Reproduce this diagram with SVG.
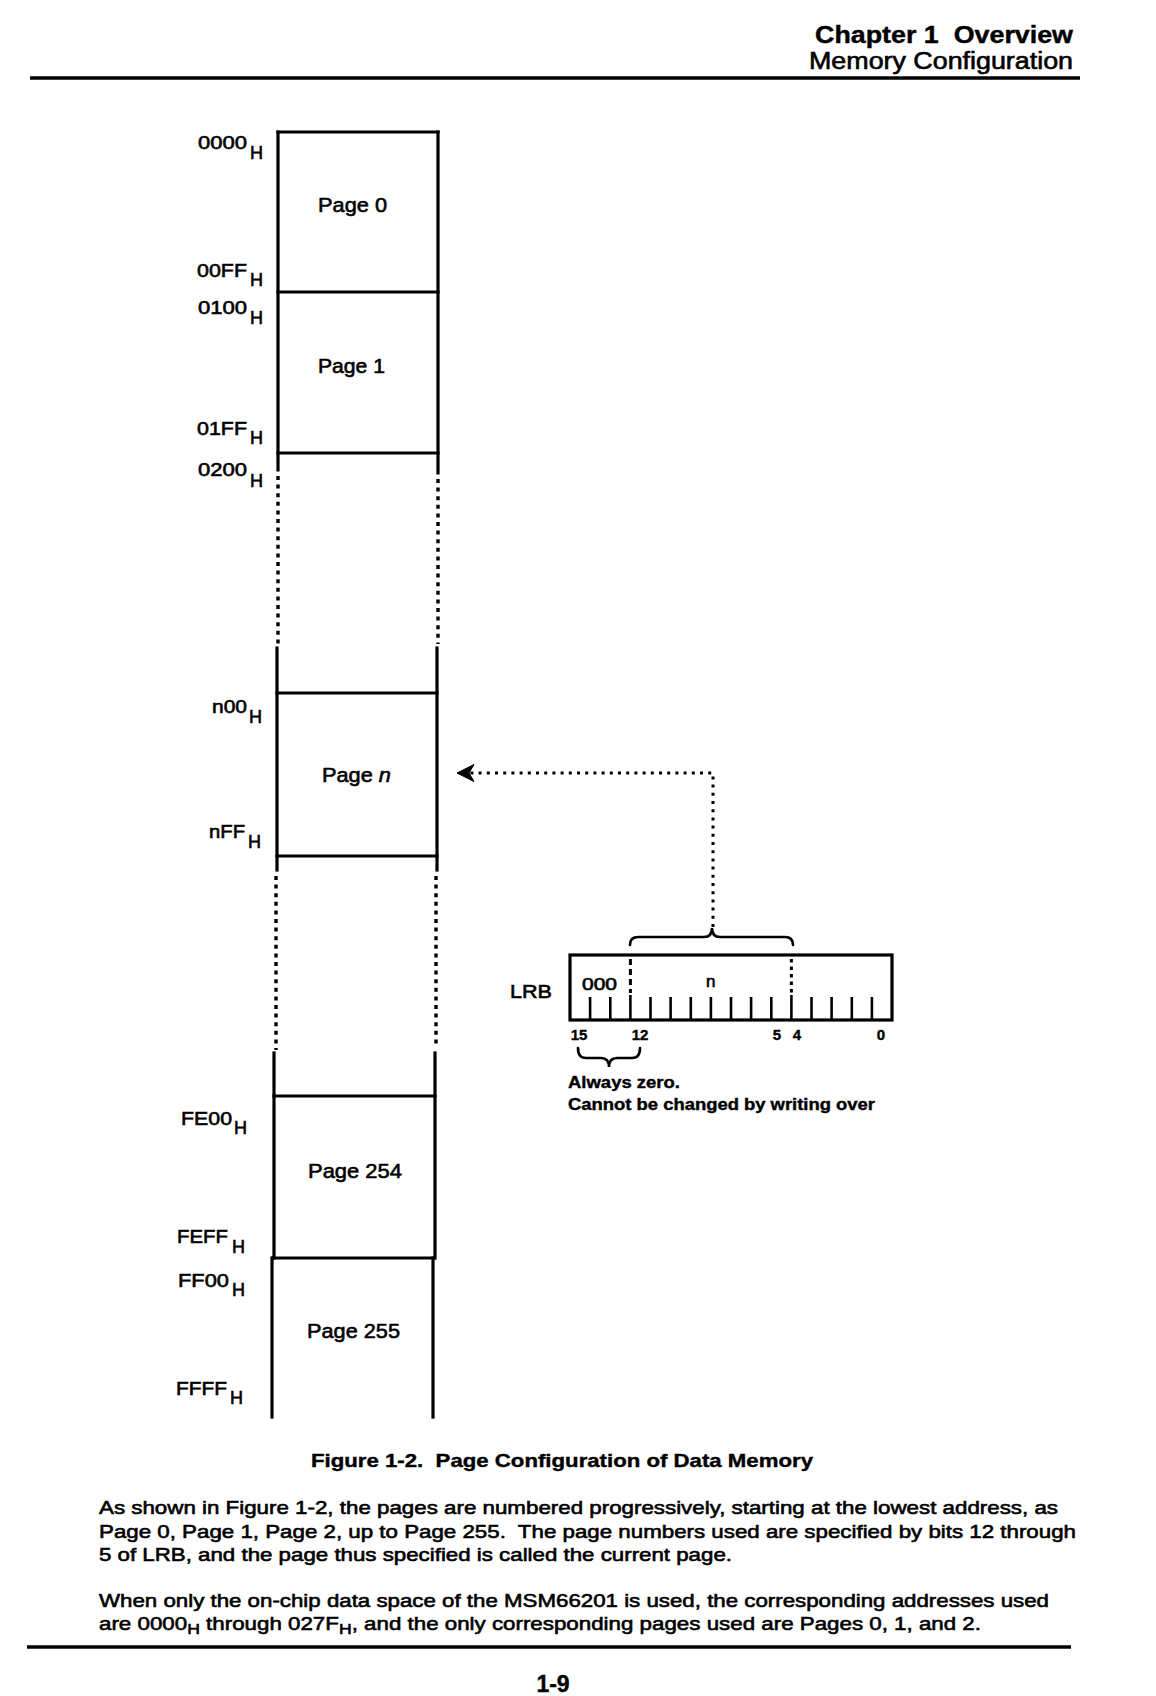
<svg xmlns="http://www.w3.org/2000/svg" width="1156" height="1696" viewBox="0 0 1156 1696">
  <style>
    .t { font-family: "Liberation Sans", Arial, sans-serif; fill: #000; stroke: #000; stroke-width: 0.6; white-space: pre; }
    .b { font-weight: bold; stroke-width: 0.4; }
    .ln { stroke: #000; stroke-width: 3.2; fill: none; stroke-linecap: square; }
    .dot { stroke: #000; stroke-width: 3.4; fill: none; stroke-dasharray: 4 4.6; }
    .rule { stroke: #000; stroke-width: 3.6; }
    .brace { stroke: #000; stroke-width: 2.6; fill: none; stroke-linecap: round; }
  </style>
  <defs>
    <marker id="arrow" viewBox="0 0 20 20" refX="18" refY="10" markerWidth="20" markerHeight="20" markerUnits="userSpaceOnUse" orient="auto">
      <path d="M18,10 L1,1.5 L6,10 L1,18.5 Z" fill="#000" stroke="#000" stroke-width="1"/>
    </marker>
  </defs>
  <rect width="1156" height="1696" fill="#fff"/>

  <!-- running header -->
  <g id="header">
    <text class="t b" x="815" y="43" font-size="23" textLength="258" lengthAdjust="spacingAndGlyphs" xml:space="preserve">Chapter 1  Overview</text>
    <text class="t" x="809" y="69" font-size="23" textLength="264" lengthAdjust="spacingAndGlyphs">Memory Configuration</text>
    <line class="rule" x1="30" y1="78" x2="1080" y2="78"/>
  </g>

  <!-- memory map column -->
  <g id="memory-column">
    <!-- left side -->
    <line class="ln" x1="278" y1="132" x2="278" y2="470"/>
    <line class="dot" x1="278" y1="476" x2="278" y2="644"/>
    <line class="ln" x1="277" y1="648" x2="277" y2="870"/>
    <line class="dot" x1="276" y1="876" x2="276" y2="1050"/>
    <line class="ln" x1="274" y1="1053" x2="274" y2="1258"/>
    <line class="ln" x1="272" y1="1258" x2="272" y2="1417"/>
    <!-- right side -->
    <line class="ln" x1="438" y1="132" x2="438" y2="473"/>
    <line class="dot" x1="438" y1="479" x2="438" y2="644"/>
    <line class="ln" x1="437" y1="648" x2="437" y2="870"/>
    <line class="dot" x1="436" y1="876" x2="436" y2="1048"/>
    <line class="ln" x1="435" y1="1053" x2="435" y2="1258"/>
    <line class="ln" x1="433" y1="1258" x2="433" y2="1417"/>
    <!-- page boundaries -->
    <line class="ln" x1="278" y1="132" x2="438" y2="132"/>
    <line class="ln" x1="278" y1="292" x2="438" y2="292"/>
    <line class="ln" x1="278" y1="453" x2="438" y2="453"/>
    <line class="ln" x1="277" y1="693" x2="437" y2="693"/>
    <line class="ln" x1="277" y1="856" x2="437" y2="856"/>
    <line class="ln" x1="274" y1="1096" x2="435" y2="1096"/>
    <line class="ln" x1="273" y1="1258" x2="434" y2="1258"/>
  </g>

  <g id="page-0">
    <text class="t" x="318" y="212" font-size="21" textLength="69" lengthAdjust="spacingAndGlyphs">Page 0</text>
  </g>
  <g id="page-1">
    <text class="t" x="318" y="373" font-size="21" textLength="67" lengthAdjust="spacingAndGlyphs">Page 1</text>
  </g>
  <g id="page-n">
    <text class="t" x="322" y="782" font-size="21" textLength="69" lengthAdjust="spacingAndGlyphs">Page <tspan font-style="italic">n</tspan></text>
  </g>
  <g id="page-254">
    <text class="t" x="308" y="1178" font-size="21" textLength="94" lengthAdjust="spacingAndGlyphs">Page 254</text>
  </g>
  <g id="page-255">
    <text class="t" x="307" y="1338" font-size="21" textLength="93" lengthAdjust="spacingAndGlyphs">Page 255</text>
  </g>

  <!-- address labels -->
  <g id="addresses">
    <text class="t" x="198" y="149" font-size="19" textLength="49" lengthAdjust="spacingAndGlyphs">0000</text>
    <text class="t" x="250" y="159" font-size="18" textLength="13" lengthAdjust="spacingAndGlyphs">H</text>
    <text class="t" x="197" y="277" font-size="19" textLength="50" lengthAdjust="spacingAndGlyphs">00FF</text>
    <text class="t" x="250" y="286" font-size="18" textLength="13" lengthAdjust="spacingAndGlyphs">H</text>
    <text class="t" x="198" y="314" font-size="19" textLength="49" lengthAdjust="spacingAndGlyphs">0100</text>
    <text class="t" x="250" y="324" font-size="18" textLength="13" lengthAdjust="spacingAndGlyphs">H</text>
    <text class="t" x="197" y="435" font-size="19" textLength="50" lengthAdjust="spacingAndGlyphs">01FF</text>
    <text class="t" x="250" y="444" font-size="18" textLength="13" lengthAdjust="spacingAndGlyphs">H</text>
    <text class="t" x="198" y="476" font-size="19" textLength="49" lengthAdjust="spacingAndGlyphs">0200</text>
    <text class="t" x="250" y="487" font-size="18" textLength="13" lengthAdjust="spacingAndGlyphs">H</text>
    <text class="t" x="212" y="713" font-size="19" textLength="35" lengthAdjust="spacingAndGlyphs">n00</text>
    <text class="t" x="249" y="723" font-size="18" textLength="13" lengthAdjust="spacingAndGlyphs">H</text>
    <text class="t" x="209" y="838" font-size="19" textLength="36" lengthAdjust="spacingAndGlyphs">nFF</text>
    <text class="t" x="248" y="848" font-size="18" textLength="13" lengthAdjust="spacingAndGlyphs">H</text>
    <text class="t" x="181" y="1125" font-size="19" textLength="51" lengthAdjust="spacingAndGlyphs">FE00</text>
    <text class="t" x="234" y="1134" font-size="18" textLength="13" lengthAdjust="spacingAndGlyphs">H</text>
    <text class="t" x="177" y="1243" font-size="19" textLength="51" lengthAdjust="spacingAndGlyphs">FEFF</text>
    <text class="t" x="232" y="1253" font-size="18" textLength="13" lengthAdjust="spacingAndGlyphs">H</text>
    <text class="t" x="178" y="1287" font-size="19" textLength="51" lengthAdjust="spacingAndGlyphs">FF00</text>
    <text class="t" x="232" y="1296" font-size="18" textLength="13" lengthAdjust="spacingAndGlyphs">H</text>
    <text class="t" x="176" y="1395" font-size="19" textLength="51" lengthAdjust="spacingAndGlyphs">FFFF</text>
    <text class="t" x="230" y="1404" font-size="18" textLength="13" lengthAdjust="spacingAndGlyphs">H</text>
  </g>

  <!-- LRB register -->
  <g id="lrb">
    <text class="t" x="510" y="998" font-size="19" textLength="42" lengthAdjust="spacingAndGlyphs">LRB</text>
    <rect x="570" y="955" width="322" height="65" fill="none" stroke="#000" stroke-width="3.2"/>
    <g stroke="#000" stroke-width="2.6">
      <line x1="590.1" y1="997" x2="590.1" y2="1020"/>
      <line x1="610.3" y1="997" x2="610.3" y2="1020"/>
      <line x1="630.4" y1="995" x2="630.4" y2="1020"/>
      <line x1="650.5" y1="997" x2="650.5" y2="1020"/>
      <line x1="670.6" y1="997" x2="670.6" y2="1020"/>
      <line x1="690.8" y1="997" x2="690.8" y2="1020"/>
      <line x1="710.9" y1="997" x2="710.9" y2="1020"/>
      <line x1="731.0" y1="997" x2="731.0" y2="1020"/>
      <line x1="751.1" y1="997" x2="751.1" y2="1020"/>
      <line x1="771.3" y1="997" x2="771.3" y2="1020"/>
      <line x1="791.4" y1="995" x2="791.4" y2="1020"/>
      <line x1="811.5" y1="997" x2="811.5" y2="1020"/>
      <line x1="831.6" y1="997" x2="831.6" y2="1020"/>
      <line x1="851.8" y1="997" x2="851.8" y2="1020"/>
      <line x1="871.9" y1="997" x2="871.9" y2="1020"/>
    </g>
    <!-- field boundaries at bits 12 and 5 -->
    <line x1="630.4" y1="959" x2="630.4" y2="993" stroke="#000" stroke-width="3" stroke-dasharray="6 4"/>
    <line x1="791.4" y1="959" x2="791.4" y2="993" stroke="#000" stroke-width="3" stroke-dasharray="3.5 4"/>
    <text class="t" x="582" y="990" font-size="16" textLength="35" lengthAdjust="spacingAndGlyphs">000</text>
    <text class="t" x="706" y="987" font-size="17">n</text>
    <g class="t b" font-size="15" text-anchor="middle">
      <text x="579" y="1040">15</text>
      <text x="640" y="1040">12</text>
      <text x="777" y="1040">5</text>
      <text x="797" y="1040">4</text>
      <text x="881" y="1040">0</text>
    </g>
    <path class="brace" d="M630,945 Q630,937 638,937 L704,937 Q712,937 712,928 Q712,937 720,937 L785,937 Q793,937 793,945"/>
    <path class="brace" d="M578,1048 Q578,1058 586,1058 L601,1058 Q609,1058 609,1067 Q609,1058 617,1058 L632,1058 Q640,1058 640,1048"/>
    <text class="t b" x="568" y="1088" font-size="16.5" textLength="112" lengthAdjust="spacingAndGlyphs">Always zero.</text>
    <text class="t b" x="568" y="1110" font-size="16.5" textLength="307" lengthAdjust="spacingAndGlyphs">Cannot be changed by writing over</text>
  </g>

  <!-- page select pointer from LRB to the current page -->
  <g id="connectors">
    <polyline points="713,927 713,773 457,773" fill="none" stroke="#000" stroke-width="3" stroke-dasharray="3 5.2" marker-end="url(#arrow)"/>
  </g>

  <!-- caption and body text -->
  <g id="caption">
    <text class="t b" x="311" y="1467" font-size="19" textLength="502" lengthAdjust="spacingAndGlyphs" xml:space="preserve">Figure 1-2.  Page Configuration of Data Memory</text>
  </g>
  <g id="body-text" font-size="19">
    <text class="t" x="99" y="1514" textLength="959" lengthAdjust="spacingAndGlyphs">As shown in Figure 1-2, the pages are numbered progressively, starting at the lowest address, as</text>
    <text class="t" x="99" y="1538" textLength="977" lengthAdjust="spacingAndGlyphs" xml:space="preserve">Page 0, Page 1, Page 2, up to Page 255.  The page numbers used are specified by bits 12 through</text>
    <text class="t" x="99" y="1561" textLength="633" lengthAdjust="spacingAndGlyphs">5 of LRB, and the page thus specified is called the current page.</text>
    <text class="t" x="99" y="1607" textLength="950" lengthAdjust="spacingAndGlyphs">When only the on-chip data space of the MSM66201 is used, the corresponding addresses used</text>
    <text class="t" x="99" y="1630" textLength="882" lengthAdjust="spacingAndGlyphs">are 0000<tspan font-size="15" dy="4">H</tspan><tspan dy="-4"> through 027F</tspan><tspan font-size="15" dy="4">H</tspan><tspan dy="-4">, and the only corresponding pages used are Pages 0, 1, and 2.</tspan></text>
  </g>

  <!-- footer -->
  <g id="footer">
    <line class="rule" x1="27" y1="1647" x2="1071" y2="1647" stroke-width="4"/>
    <text class="t b" x="553" y="1692" font-size="23" text-anchor="middle">1-9</text>
  </g>
</svg>
